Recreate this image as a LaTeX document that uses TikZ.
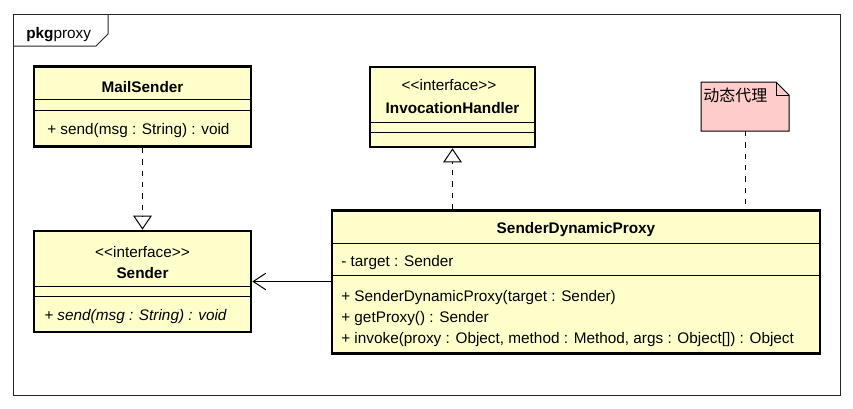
\documentclass[tikz,border=0pt]{standalone}
\usepackage{fontspec}
\setmainfont{Liberation Sans}
\newfontfamily\cjkfont{Noto Sans CJK SC}
\usetikzlibrary{arrows.meta}

\definecolor{classfill}{HTML}{FFFFCC}
\definecolor{notefill}{HTML}{FFCCCC}
\newcommand\umlfont{\fontsize{11.5}{14}\selectfont}

\tikzset{
    classbox/.style={draw, fill=classfill, line width=2pt, inner sep=0pt},
    notebox/.style={inner sep=0pt, outer sep=0pt},
    classname/.style={anchor=base, inner sep=0pt, font=\umlfont\bfseries},
    stereo/.style={anchor=base, inner sep=0pt},
    member/.style={anchor=base west, inner sep=0pt},
    sepline/.style={line width=0.75pt},
    frame/.style={line width=0.75pt, black!85},
    realize/.style={line width=0.75pt, dash pattern=on 4pt off 4.5pt,
        -{Triangle[open, length=10.5pt, width=14pt, line width=0.75pt]}},
    assoc/.style={line width=0.75pt, -{Straight Barb[length=9.5pt, width=12.5pt, line width=0.75pt]}},
    notelink/.style={line width=0.75pt, dash pattern=on 4pt off 4.5pt}
}

\begin{document}
\begin{tikzpicture}[x=0.75pt, y=-0.75pt, every node/.append style={font=\umlfont}]
    \useasboundingbox (0,0) rectangle (853,408);

    % package frame
    \draw[frame] (13,14) rectangle (840,395);
    \draw[frame] (13,46) -- (96,46) -- (108,34) -- (108,14);
    \node[member] (pkg) at (26,38) {\textbf{pkg}proxy};

    % MailSender
    \node[classbox, minimum width=162.75pt, minimum height=60pt] (mail) at (142.5,106.5) {};
    \node[classname] (mailname) at (142.5,92) {MailSender};
    \draw[sepline] (34,99) -- (251,99);
    \draw[sepline] (34,110) -- (251,110);
    \node[member] (mailsend) at (47,134) {+ send(msg : String) : void};

    % InvocationHandler
    \node[classbox, minimum width=123.75pt, minimum height=60pt] (ih) at (452.5,107) {};
    \node[stereo] (ihstereo) at (449,90) {<{}<interface>{}>};
    \node[classname] (ihname) at (452.5,113) {InvocationHandler};
    \draw[sepline] (370,122) -- (535,122);
    \draw[sepline] (370,132) -- (535,132);

    % note
    \node[notebox, minimum width=66pt, minimum height=36.75pt] (note) at (745,106.5) {};
    \filldraw[fill=notefill, line width=0.75pt] (note.north west) -- ([xshift=-9.75pt]note.north east)
        -- ([yshift=-9.75pt]note.north east) -- (note.south east) -- (note.south west) -- cycle;
    \draw[line width=0.75pt] ([xshift=-9.75pt]note.north east) -- ([xshift=-9.75pt, yshift=-9.75pt]note.north east)
        -- ([yshift=-9.75pt]note.north east);
    \node[member, font=\cjkfont\fontsize{12}{14}\selectfont] (notetext) at (703,101) {动态代理};

    % Sender
    \node[classbox, minimum width=162.75pt, minimum height=75.75pt] (sender) at (142.5,281.5) {};
    \node[stereo] (senderstereo) at (142.5,257) {<{}<interface>{}>};
    \node[classname] (sendername) at (142.5,278) {Sender};
    \draw[sepline] (34,286) -- (251,286);
    \draw[sepline] (34,296) -- (251,296);
    \node[member] (sendersend) at (44,320) {\itshape + send(msg : String) : void};

    % SenderDynamicProxy
    \node[classbox, minimum width=366pt, minimum height=107.25pt] (proxy) at (576,282) {};
    \node[classname] (proxyname) at (576,233) {SenderDynamicProxy};
    \draw[sepline] (332,243) -- (820,243);
    \draw[sepline] (332,275) -- (820,275);
    \node[member] (proxytarget) at (341,266) {- target : Sender};
    \node[member] (proxyctor) at (341,301) {+ SenderDynamicProxy(target : Sender)};
    \node[member] (proxyget) at (341,322) {+ getProxy() : Sender};
    \node[member] (proxyinvoke) at (341,343) {+ invoke(proxy : Object, method : Method, args : Object[]) : Object};

    % connectors
    \draw[realize] (mail.south) -- (sender.north);
    \draw[realize] (proxy.north -| ih.south) -- (ih.south);
    \draw[assoc] (proxy.west |- sender.east) -- (sender.east);
    \draw[notelink] (note.south) -- (note.south |- proxy.north);
\end{tikzpicture}
\end{document}
